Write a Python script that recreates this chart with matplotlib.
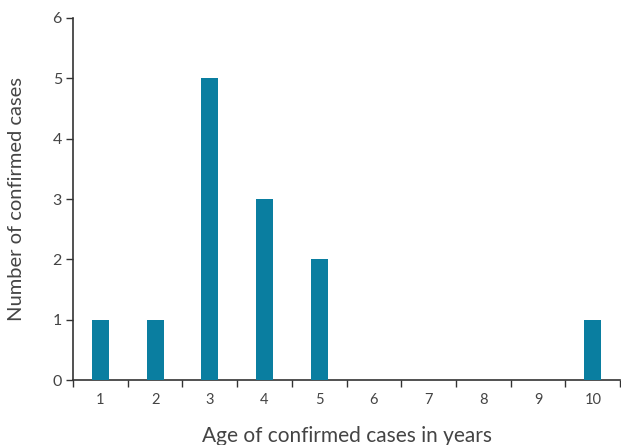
import matplotlib
matplotlib.use("Agg")
import matplotlib.pyplot as plt
import numpy as np

ages = [1, 2, 3, 4, 5, 6, 7, 8, 9, 10]
cases = [1, 1, 5, 3, 2, 0, 0, 0, 0, 1]
yticks = [0, 1, 2, 3, 4, 5, 6]

plt.rcParams['font.family'] = ['Lato', 'DejaVu Sans']
text_color = '#444444'
axis_color = '#333333'

fig = plt.figure(figsize=(6.21, 4.45), dpi=100)
ax = fig.add_axes([0.1176, 0.146, 0.881, 0.8136])

ax.bar(ages, cases, width=0.31, color='#0a7ea0', zorder=3)

ax.set_xlim(0.5, 10.5)
ax.set_ylim(0, 6)
ax.set_xticks(np.arange(0.5, 11, 1.0))
ax.set_xticklabels([])
ax.set_xticks(ages, minor=True)
ax.set_xticklabels([str(a) for a in ages], minor=True)
ax.tick_params(axis='x', which='major', length=5, width=1, color=axis_color, direction='out')
ax.tick_params(axis='x', which='minor', length=0, pad=9, labelsize=10.5, labelcolor=text_color)
ax.set_yticks(yticks)
ax.set_yticklabels([str(y) for y in yticks])
ax.tick_params(axis='y', length=5, width=1, color=axis_color, labelsize=11.5, labelcolor=text_color, pad=3)

for s in ['top', 'right']:
    ax.spines[s].set_visible(False)
for s in ['left', 'bottom']:
    ax.spines[s].set_color(axis_color)
    ax.spines[s].set_linewidth(1.2)

ax.set_xlabel('Age of confirmed cases in years', fontsize=15, color=text_color, labelpad=14)
ax.set_ylabel('Number of confirmed cases', fontsize=14.5, color=text_color, labelpad=20)

fig.savefig('out.png', dpi=100)
